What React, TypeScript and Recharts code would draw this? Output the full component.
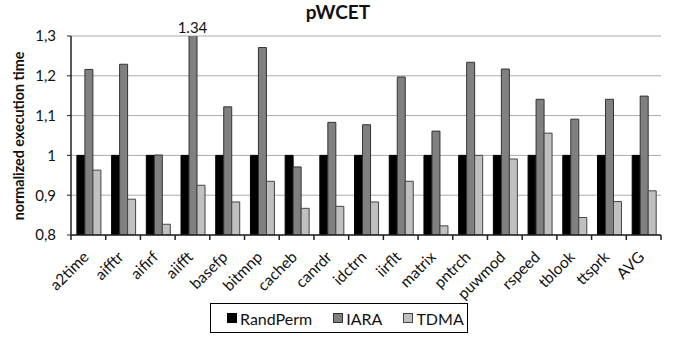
import React from "react";
import {
  BarChart,
  Bar,
  XAxis,
  YAxis,
  CartesianGrid,
  Legend,
  ReferenceDot,
  Label,
} from "recharts";

const categories = [
  "a2time", "aifftr", "aifirf", "aiifft", "basefp", "bitmnp", "cacheb", "canrdr",
  "idctrn", "iirflt", "matrix", "pntrch", "puwmod", "rspeed", "tblook", "ttsprk", "AVG",
];
const randPerm = [1, 1, 1, 1, 1, 1, 1, 1, 1, 1, 1, 1, 1, 1, 1, 1, 1];
const iara = [
  1.216, 1.229, 1.001, 1.34, 1.122, 1.271, 0.971, 1.083, 1.077, 1.197, 1.061, 1.234,
  1.217, 1.141, 1.091, 1.141, 1.149,
];
const tdma = [
  0.963, 0.89, 0.827, 0.925, 0.883, 0.935, 0.867, 0.872, 0.883, 0.935, 0.823, 1.0,
  0.991, 1.056, 0.844, 0.884, 0.911,
];
const yTicks = [0.8, 0.9, 1.0, 1.1, 1.2, 1.3];
const yMin = 0.8;
const yMax = 1.3;

const seriesInfo = [
  { key: "RandPerm", color: "#000000", stroke: "#000000" },
  { key: "IARA", color: "#808080", stroke: "#333333" },
  { key: "TDMA", color: "#c0c0c0", stroke: "#444444" },
];

const data = categories.map((name, i) => ({
  name,
  RandPerm: randPerm[i],
  IARA: iara[i],
  TDMA: tdma[i],
}));

const overflow = data.filter((d) => d.IARA > yMax);

const FONT = "Lato, 'Open Sans', sans-serif";

const fmtY = (v: number) => (v === 1 ? "1" : v.toFixed(1).replace(".", ","));

const XTick = (props: any) => {
  const { x, y, payload, index } = props;
  const half = payload && payload.offset ? payload.offset : 17.35;
  const ax = x + 1.5;
  const ay = y + 23;
  return (
    <g>
      <line x1={x - half} x2={x - half} y1={y} y2={y + 5} stroke="#222" strokeWidth={1.5} />
      {index === categories.length - 1 && (
        <line x1={x + half} x2={x + half} y1={y} y2={y + 5} stroke="#222" strokeWidth={1.5} />
      )}
      <text
        x={ax}
        y={ay}
        transform={`rotate(-45 ${ax} ${ay})`}
        textAnchor="end"
        fontSize={15.5}
        fontFamily={FONT}
        fill="#111"
      >
        {payload.value}
      </text>
    </g>
  );
};

const LegendContent = () => (
  <div
    style={{
      boxSizing: "border-box",
      width: 258,
      height: 30,
      border: "1.5px solid #000",
      background: "#fff",
      display: "flex",
      alignItems: "center",
      justifyContent: "flex-start",
      paddingLeft: 16,
      fontFamily: FONT,
      fontSize: 16,
      color: "#111",
    }}
  >
    {seriesInfo.map((s, i) => (
      <div key={s.key} style={{ display: "flex", alignItems: "center", marginLeft: i === 0 ? 0 : 21 }}>
        <span
          style={{
            display: "inline-block",
            boxSizing: "border-box",
            width: 10,
            height: 10,
            background: s.color,
            border: `1px solid ${s.stroke}`,
            marginRight: 3,
          }}
        />
        <span>{s.key}</span>
      </div>
    ))}
  </div>
);

export default function App() {
  return (
    <div style={{ position: "absolute", left: 0, top: 0, width: 673, height: 337, background: "#fff" }}>
      <BarChart
        width={673}
        height={337}
        data={data}
        margin={{ top: 36, right: 12, bottom: 0, left: 0 }}
        barCategoryGap="17%"
        barGap={0}
      >
        <text
          x={338}
          y={19}
          textAnchor="middle"
          fontFamily={FONT}
          fontWeight="bold"
          fontSize={19}
          fill="#111"
        >
          pWCET
        </text>
        <CartesianGrid vertical={false} stroke="#ababab" strokeWidth={1} />
        <XAxis
          dataKey="name"
          height={72}
          interval={0}
          tickLine={false}
          tickSize={0}
          tickMargin={0}
          axisLine={{ stroke: "#222", strokeWidth: 1.5 }}
          tick={<XTick />}
        />
        <XAxis
          xAxisId="top"
          orientation="top"
          dataKey="name"
          height={0}
          tick={false}
          tickLine={false}
          axisLine={{ stroke: "#222", strokeWidth: 1.5 }}
        />
        <YAxis
          width={71}
          domain={[yMin, yMax]}
          ticks={yTicks}
          allowDataOverflow
          tickFormatter={fmtY}
          tickSize={4}
          tickMargin={11}
          tickLine={{ stroke: "#222" }}
          axisLine={{ stroke: "#222", strokeWidth: 1.5 }}
          tick={{ fontFamily: FONT, fontSize: 15, fill: "#111" }}
        >
          <Label
            content={() => (
              <text
                x={18}
                y={136}
                transform="rotate(-90 18 136)"
                textAnchor="middle"
                dominantBaseline="central"
                fontFamily={FONT}
                fontWeight="bold"
                fontSize={14.3}
                fill="#111"
              >
                normalized execution time
              </text>
            )}
          />
        </YAxis>
        <YAxis
          yAxisId="right"
          orientation="right"
          width={0}
          domain={[yMin, yMax]}
          tick={false}
          tickLine={false}
          axisLine={{ stroke: "#222", strokeWidth: 1.5 }}
        />
        <Legend verticalAlign="bottom" content={<LegendContent />} wrapperStyle={{ left: 210, top: 303, bottom: "auto", width: 258 }} />
        {seriesInfo.map((s) => (
          <Bar
            key={s.key}
            dataKey={s.key}
            fill={s.color}
            stroke={s.stroke}
            strokeWidth={1}
            isAnimationActive={false}
          />
        ))}
        {overflow.map((d) => (
          <ReferenceDot
            key={d.name}
            x={d.name}
            y={yMax}
            r={0}
            ifOverflow="visible"
            label={{
              value: d.IARA.toFixed(2),
              position: "top",
              offset: 3,
              fontFamily: FONT,
              fontSize: 15,
              fill: "#111",
            }}
          />
        ))}
      </BarChart>
    </div>
  );
}
